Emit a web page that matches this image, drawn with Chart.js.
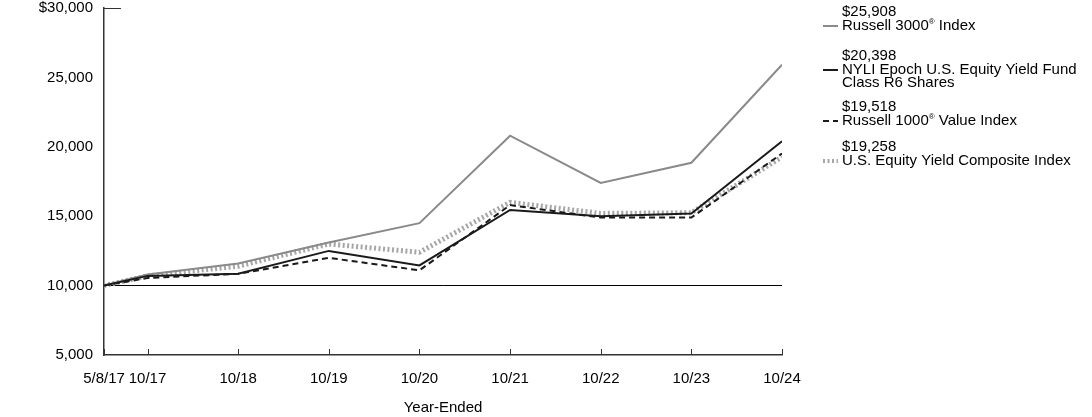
<!DOCTYPE html>
<html>
<head>
<meta charset="utf-8">
<script src="https://cdn.jsdelivr.net/npm/chart.js@4.4.1/dist/chart.umd.min.js"></script>
<style>
  body { margin: 0; background: #fff; }
  #wrap { width: 1092px; height: 417px; position: relative; }
</style>
</head>
<body>
<div id="wrap"><canvas id="chart"></canvas></div>
<script>
// x positions as fractional years: 5/8/17 then each October end
const xValues = [2017.35, 2017.83, 2018.83, 2019.83, 2020.83, 2021.83, 2022.83, 2023.83, 2024.83];
const xLabels = ["5/8/17", "10/17", "10/18", "10/19", "10/20", "10/21", "10/22", "10/23", "10/24"];

const seriesNames = [
  ["Russell 3000® Index"],
  ["NYLI Epoch U.S. Equity Yield Fund", "Class R6 Shares"],
  ["Russell 1000® Value Index"],
  ["U.S. Equity Yield Composite Index"]
];
const russell3000 = [10000, 10800, 11600, 13100, 14500, 20800, 17400, 18850, 25908];
const fundR6      = [10000, 10700, 10850, 12500, 11450, 15450, 15000, 15200, 20398];
const russell1000 = [10000, 10550, 10850, 12000, 11100, 15800, 14900, 14900, 19518];
const composite   = [10000, 10700, 11400, 13000, 12400, 16000, 15200, 15250, 19258];

const yTicks = [5000, 10000, 15000, 20000, 25000, 30000];

const FONT = "'Liberation Sans', Arial, sans-serif";
const FS = 15;

function pts(arr) { return arr.map((v, i) => ({ x: xValues[i], y: v })); }

const datasets = [
  { label: seriesNames[0].join(" "), data: pts(russell3000), borderColor: "#8a8a8a", borderWidth: 2, order: 2 },
  { label: seriesNames[1].join(" "), data: pts(fundR6), borderColor: "#1a1a1a", borderWidth: 2, order: 1 },
  { label: seriesNames[2].join(" "), data: pts(russell1000), borderColor: "#1a1a1a", borderWidth: 2, borderDash: [6, 4], order: 3 },
  { label: seriesNames[3].join(" "), data: pts(composite), borderColor: "#a6a6a6", borderWidth: 5, borderDash: [2, 2.5], order: 4 }
];
datasets.forEach(d => { d.pointRadius = 0; d.tension = 0; d.fill = false; });

function fmtMoney(v) { return "$" + v.toLocaleString("en-US"); }

// draw text with a raised small ®
function drawName(ctx, text, x, y) {
  const parts = text.split("®");
  let cx = x;
  parts.forEach((p, i) => {
    ctx.font = FS + "px " + FONT;
    ctx.fillText(p, cx, y);
    cx += ctx.measureText(p).width;
    if (i < parts.length - 1) {
      ctx.font = "8px " + FONT;
      ctx.fillText("®", cx, y - 4);
      cx += ctx.measureText("®").width;
    }
  });
}

const decor = {
  id: "decor",
  afterDraw(chart) {
    const ctx = chart.ctx;
    const xs = chart.scales.x, ys = chart.scales.y;
    const area = chart.chartArea;
    ctx.save();
    // x tick marks pointing up
    ctx.strokeStyle = "#333";
    ctx.lineWidth = 1;
    xValues.forEach(v => {
      const px = Math.round(xs.getPixelForValue(v)) + 0.5;
      ctx.beginPath();
      ctx.moveTo(px, area.bottom);
      ctx.lineTo(px, area.bottom - 6);
      ctx.stroke();
    });
    // short mark at top of y axis
    const ty = Math.round(ys.getPixelForValue(30000)) + 0.5;
    ctx.beginPath();
    ctx.moveTo(area.left, ty);
    ctx.lineTo(area.left + 17, ty);
    ctx.stroke();

    // legend
    const lastVals = [russell3000, fundR6, russell1000, composite].map(a => a[a.length - 1]);
    const tops = [12, 56, 107, 147];
    ctx.fillStyle = "#000";
    ctx.textBaseline = "middle";
    ctx.textAlign = "left";
    datasets.forEach((d, i) => {
      const y0 = tops[i];
      ctx.font = FS + "px " + FONT;
      ctx.fillText(fmtMoney(lastVals[i]), 842, y0);
      seriesNames[i].forEach((n, j) => drawName(ctx, n, 842, y0 + 14 + j * 13));
      ctx.beginPath();
      ctx.strokeStyle = d.borderColor;
      ctx.lineWidth = i === 3 ? 4 : 2;
      ctx.setLineDash(d.borderDash || []);
      ctx.moveTo(823, y0 + 14);
      ctx.lineTo(838, y0 + 14);
      ctx.stroke();
      ctx.setLineDash([]);
    });
    ctx.restore();
  }
};

new Chart(document.getElementById("chart"), {
  type: "line",
  data: { datasets },
  options: {
    responsive: true,
    maintainAspectRatio: false,
    animation: false,
    layout: { padding: { top: 8, right: 310, left: 0, bottom: 0 } },
    plugins: { legend: { display: false }, tooltip: { enabled: false } },
    scales: {
      x: {
        type: "linear",
        min: xValues[0],
        max: xValues[xValues.length - 1],
        afterBuildTicks: s => { s.ticks = xValues.map(v => ({ value: v })); },
        afterFit: s => { s.height = 62; },
        ticks: {
          autoSkip: false, maxRotation: 0, padding: 15, color: "#000",
          font: { family: FONT, size: FS },
          callback: (v) => { const i = xValues.indexOf(v); return i >= 0 ? xLabels[i] : ""; }
        },
        grid: { display: false, drawTicks: false },
        border: { display: true, color: "#333", width: 1.5 },
        title: { display: true, text: "Year-Ended", color: "#000", font: { family: FONT, size: FS }, padding: { top: 4, bottom: 0 } }
      },
      y: {
        min: 5000, max: 30000,
        afterBuildTicks: s => { s.ticks = yTicks.map(v => ({ value: v })); },
        afterFit: s => { s.width = 104; s.paddingTop = 0; s.paddingBottom = 0; },
        ticks: {
          padding: 11, color: "#000",
          font: { family: FONT, size: FS },
          callback: v => (v === 30000 ? "$" : "") + v.toLocaleString("en-US")
        },
        grid: {
          drawTicks: false,
          color: c => (c.tick && c.tick.value === 10000) ? "#000" : "rgba(0,0,0,0)",
          lineWidth: 1
        },
        border: { display: true, color: "#333", width: 1.5 }
      }
    }
  },
  plugins: [decor]
});
</script>
</body>
</html>
